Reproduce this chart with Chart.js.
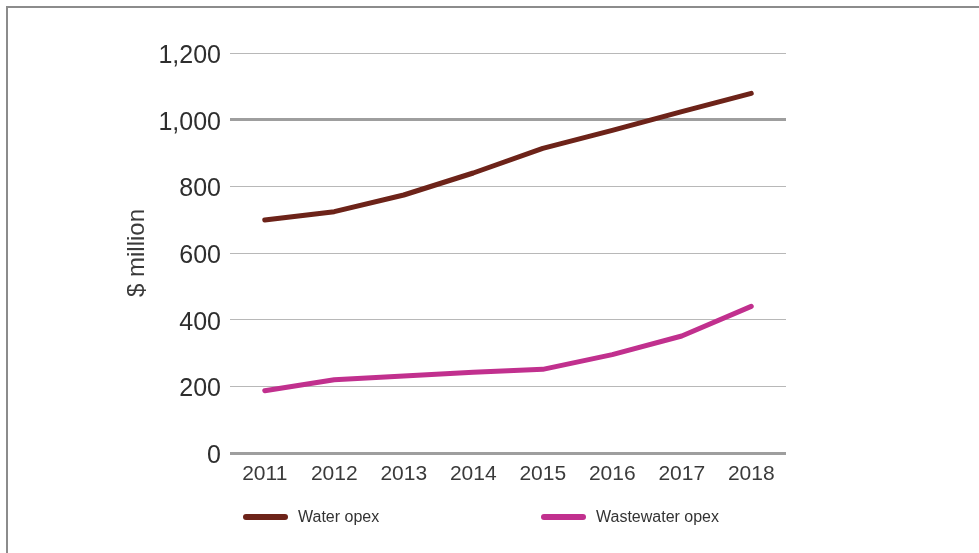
<!DOCTYPE html>
<html>
<head>
<meta charset="utf-8">
<script src="https://cdn.jsdelivr.net/npm/chart.js@4/dist/chart.umd.min.js"></script>
<style>
  body{margin:0;background:#fff;overflow:hidden;font-family:"Liberation Sans",Arial,sans-serif;}
  #wrap{position:relative;width:979px;height:553px;}
  #frame{position:absolute;left:6px;top:6px;width:1000px;height:600px;border:2px solid #8c8c8c;box-sizing:border-box;}
  canvas{position:absolute;left:0;top:0;}
  .leg{position:absolute;top:507px;font-size:16px;color:#333;line-height:20px;white-space:nowrap;}
  .leg i{display:inline-block;width:45px;height:6px;border-radius:3px;vertical-align:middle;margin-right:10px;position:relative;top:-1px;}
</style>
</head>
<body>
<div id="wrap">
  <div id="frame"></div>
  <canvas id="opexChart" width="979" height="553"></canvas>
</div>
<script>
var years=['2011','2012','2013','2014','2015','2016','2017','2018'];
var water_opex=[699,724,774,840,914,968,1024,1079];//$ million
var wastewater_opex=[187,220,231,242,251,295,351,440];
var series_names=['Water opex','Wastewater opex'];
var series_colors=['#6d2319','#c1308e'];
var legend_x=[243,541];

var ctx=document.getElementById('opexChart').getContext('2d');

var myChart=new Chart(ctx,{
  type:'line',
  data:{
    labels:years,
    datasets:[
      {label:series_names[0],data:water_opex,borderColor:series_colors[0],backgroundColor:series_colors[0]},
      {label:series_names[1],data:wastewater_opex,borderColor:series_colors[1],backgroundColor:series_colors[1]}
    ]
  },
  options:{
    responsive:false,
    animation:false,
    layout:{padding:{top:53,right:193,bottom:60,left:0}},
    elements:{
      line:{borderWidth:5,tension:0,borderCapStyle:'round',borderJoinStyle:'round'},
      point:{radius:0,hoverRadius:0}
    },
    plugins:{legend:{display:false},tooltip:{enabled:false}},
    scales:{
      x:{
        offset:true,
        grid:{display:false,drawTicks:false,offset:true},
        border:{display:false},
        ticks:{color:'#3a3a3a',padding:9,font:{family:'Liberation Sans',size:21}},
        afterFit:function(s){s.height=40;}
      },
      y:{
        min:0,max:1200,
        border:{display:false},
        grid:{
          drawTicks:false,
          color:function(c){return (c.tick&&(c.tick.value===1000||c.tick.value===0))?'#9e9e9e':'#b8b8b8';},
          lineWidth:function(c){return (c.tick&&(c.tick.value===1000||c.tick.value===0))?3:1;}
        },
        ticks:{stepSize:200,padding:9,labelOffset:3,color:'#2e2e2e',font:{family:'Liberation Sans',size:25},
          callback:function(v){return v.toLocaleString('en-US');}},
        title:{display:true,text:'$ million',color:'#3a3a3a',font:{family:'Liberation Sans',size:24},padding:{top:123,bottom:0}},
        afterFit:function(s){s.width=230;}
      }
    }
  }
});

// legend below the chart
var wrap=document.getElementById('wrap');
myChart.data.datasets.forEach(function(ds,i){
  var d=document.createElement('div');
  d.className='leg';
  d.style.left=legend_x[i]+'px';
  d.innerHTML='<i style="background:'+ds.borderColor+'"></i>'+ds.label;
  wrap.appendChild(d);
});
</script>
</body>
</html>
